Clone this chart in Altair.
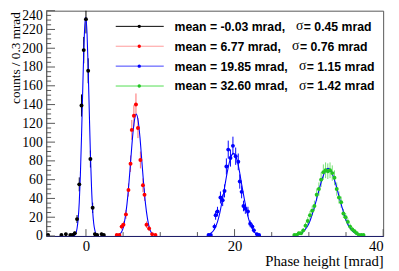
import altair as alt
import pandas as pd

# ---------------- histogram contents (bin width 0.3 mrad) ----------------
black_x = [-5.1, -3.3, -2.7, -2.1, -1.8, -1.5, -1.2, -0.9, -0.6, -0.3, 0.0, 0.3, 0.6, 0.9, 1.2, 1.5, 2.1, 2.4]
black_y = [1, 1, 2, 1, 1, 3, 18, 55, 139, 198, 231, 176, 82, 30, 2, 1, 2, 1]

red_x = [4.15, 4.5, 4.8, 5.05, 5.38, 5.72, 6.0, 6.17, 6.45, 6.73, 7.0, 7.33, 7.67, 7.88, 8.15, 8.5, 8.9, 9.35]
red_y = [1, 1, 10, 12, 23, 49, 77, 113, 128, 140, 115, 81, 54, 44, 12, 8, 2, 1]

blue_x = [16.5, 16.8, 17.3, 17.45, 17.7, 18.1, 18.4, 18.65, 18.9, 19.15, 19.45, 19.78, 20.15, 20.5, 20.7,
          20.95, 21.2, 21.45, 21.8, 22.1, 22.4, 22.6, 23.0, 23.3]
blue_y = [1, 1, 10, 22, 26, 41, 38, 48, 74, 92, 83, 96, 85, 79, 58, 47, 32, 29, 26, 13, 10, 6, 2, 1]

green_x = [28.05, 28.35, 28.65, 28.95, 29.25, 29.55, 29.85, 30.15, 30.45, 30.75, 31.05, 31.35, 31.65, 31.95,
           32.25, 32.55, 32.85, 33.15, 33.45, 33.75, 34.05, 34.35, 34.65, 34.95, 35.25, 35.55, 35.85, 36.15,
           36.45, 36.75, 37.05, 37.35]
green_y = [1, 1, 3, 3, 6, 11, 16, 22, 27, 32, 44, 50, 60, 68, 70, 69, 70, 67, 62, 50, 41, 36, 24, 20, 15, 10,
           7, 5, 3, 1, 1, 1]

# ---------------- fitted curves ----------------
fit_black_x = [-1.65, -1.5, -1.35, -1.2, -1.05, -0.9, -0.75, -0.6, -0.45, -0.3, -0.15, -0.03, 0.15, 0.3, 0.45,
               0.6, 0.75, 0.9, 1.05, 1.2, 1.35, 1.5, 1.65]
fit_black_y = [0, 1, 3, 8, 18, 36, 65, 105, 151, 195, 225, 233, 215, 178, 132, 87, 52, 27, 13, 6, 2, 1, 0]

fit_red_x = [4.27, 4.52, 4.77, 5.02, 5.27, 5.52, 5.77, 6.02, 6.27, 6.52, 6.77, 7.02, 7.27, 7.52, 7.77, 8.02,
             8.27, 8.52, 8.77, 9.02, 9.27]
fit_red_y = [1, 2, 4, 9, 19, 34, 55, 80, 105, 123, 130, 123, 105, 80, 55, 34, 19, 9, 4, 2, 1]

fit_blue_x = [16.5, 16.8, 17.1, 17.4, 17.7, 18.0, 18.3, 18.6, 18.9, 19.2, 19.5, 19.85, 20.1, 20.4, 20.7, 21.0,
              21.3, 21.6, 21.9, 22.2, 22.5, 22.8, 23.1, 23.4]
fit_blue_y = [1, 3, 5, 9, 15, 24, 36, 49, 63, 75, 84, 88, 86, 79, 67, 53, 40, 28, 18, 11, 6, 3, 2, 1]

fit_green_x = [28.2, 28.6, 29.0, 29.4, 29.8, 30.2, 30.6, 31.0, 31.4, 31.8, 32.2, 32.6, 33.0, 33.4, 33.8, 34.2,
               34.6, 35.0, 35.4, 35.8, 36.2, 36.6, 37.0]
fit_green_y = [0.6, 1.3, 3, 6, 10, 17, 27, 38, 50, 61, 69, 72, 69, 61, 50, 38, 27, 17, 10, 6, 3, 1.3, 0.6]

# ---------------- legend text ----------------
series = ["s0", "s1", "s2", "s3"]
mean_labels = ["mean = -0.03 mrad,", "mean = 6.77 mrad,", "mean = 19.85 mrad,", "mean = 32.60 mrad,"]
sigma_labels = ["= 0.45 mrad", "= 0.76 mrad", "= 1.15 mrad", "= 1.42 mrad"]

# ---------------- axis ticks ----------------
x_major = [0, 20, 40]
x_minor = [5, 10, 15, 25, 30, 35]
y_major = list(range(0, 241, 20))
y_minor = [v for v in range(5, 240, 5) if v % 20 != 0]

# ---------------- styles ----------------
marker_colors = ["#000000", "#ff0000", "#0000ff", "#22c422"]
bar_colors = ["#000000", "#ff6a6a", "#0000ff", "#74e074"]
legend_line_colors = ["#000000", "#ff9a9a", "#4040ff", "#50dd50"]
sigma_px = [255, 251, 258, 258]
W, H = 344, 230

hist = pd.DataFrame({
    "s": ["s0"] * len(black_x) + ["s1"] * len(red_x) + ["s2"] * len(blue_x) + ["s3"] * len(green_x),
    "x": black_x + red_x + blue_x + green_x,
    "y": black_y + red_y + blue_y + green_y,
})
fits = pd.DataFrame({
    "s": ["s0"] * len(fit_black_x) + ["s1"] * len(fit_red_x) + ["s2"] * len(fit_blue_x) + ["s3"] * len(fit_green_x),
    "x": fit_black_x + fit_red_x + fit_blue_x + fit_green_x,
    "y": fit_black_y + fit_red_y + fit_blue_y + fit_green_y,
})

xs = alt.Scale(domain=[-5.35, 40], nice=False, zero=False)
ys = alt.Scale(domain=[0, 240], nice=False)
serif = "Liberation Serif"

x_axis = alt.Axis(values=x_major, tickSize=0, labelFont=serif, labelFontSize=15, labelPadding=3,
                  labelColor="#000", domainColor="#1c1c6a", grid=False, title="Phase height [mrad]",
                  titleFont=serif, titleFontSize=15, titleFontWeight="normal", titleColor="#000",
                  titleX=W, titleY=30, titleAlign="right", titleBaseline="alphabetic", labelOverlap=False)
y_axis = alt.Axis(values=y_major, tickSize=0, labelFont=serif, labelFontSize=14, labelPadding=4,
                  labelColor="#000", domainColor="#606060", grid=False, title="counts / 0.3 mrad",
                  titleFont=serif, titleFontSize=13.5, titleFontWeight="normal", titleColor="#000",
                  titleX=-27.5, titleY=1, titleAngle=270, titleAlign="right", titleBaseline="alphabetic",
                  labelOverlap=False,
                  labelOffset={"condition": {"test": "datum.value == 240", "value": 4.5}, "value": 0})

errbars = alt.Chart(hist).transform_calculate(
    lo="datum.y - sqrt(datum.y)", hi="datum.y + sqrt(datum.y)"
).mark_rule(clip=True, strokeWidth=1).encode(
    x=alt.X("x:Q", scale=xs, axis=x_axis),
    y=alt.Y("lo:Q", scale=ys, axis=y_axis),
    y2="hi:Q",
    stroke=alt.Stroke("s:N", scale=alt.Scale(domain=series, range=bar_colors), legend=None),
)

curves = alt.Chart(fits).mark_line(clip=True, color="#0000ff", strokeWidth=1.1, interpolate="monotone").encode(
    x=alt.X("x:Q", scale=xs, axis=x_axis),
    y=alt.Y("y:Q", scale=ys, axis=y_axis),
    detail="s:N",
)

points = alt.Chart(hist).mark_point(filled=True, size=16, opacity=1, clip=True).encode(
    x=alt.X("x:Q", scale=xs, axis=x_axis),
    y=alt.Y("y:Q", scale=ys, axis=y_axis),
    fill=alt.Fill("s:N", scale=alt.Scale(domain=series, range=marker_colors), legend=None),
)

tick_color = "#555555"
xt_major = alt.Chart(pd.DataFrame({"v": x_major})).mark_rule(color=tick_color).encode(
    x=alt.X("v:Q", scale=xs, axis=x_axis), y=alt.value(H), y2=alt.value(H - 7))
xt_minor = alt.Chart(pd.DataFrame({"v": x_minor})).mark_rule(color=tick_color).encode(
    x=alt.X("v:Q", scale=xs, axis=x_axis), y=alt.value(H), y2=alt.value(H - 4))
yt_major = alt.Chart(pd.DataFrame({"v": y_major})).mark_rule(color=tick_color).encode(
    y=alt.Y("v:Q", scale=ys, axis=y_axis), x=alt.value(0), x2=alt.value(9))
yt_minor = alt.Chart(pd.DataFrame({"v": y_minor})).mark_rule(color=tick_color).encode(
    y=alt.Y("v:Q", scale=ys, axis=y_axis), x=alt.value(0), x2=alt.value(5))

layers = [errbars, curves, points, xt_major, xt_minor, yt_major, yt_minor]

one = pd.DataFrame({"a": [0]})
for i in range(4):
    ry = 16 + 20.3 * i
    layers.append(alt.Chart(one).mark_rule(color=legend_line_colors[i], strokeWidth=1).encode(
        x=alt.value(71), x2=alt.value(120), y=alt.value(ry)))
    layers.append(alt.Chart(one).mark_point(filled=True, size=12, opacity=1, color=marker_colors[i]).encode(
        x=alt.value(95), y=alt.value(ry)))
    layers.append(alt.Chart(one).mark_text(align="left", baseline="middle", font="Liberation Sans",
                                           fontSize=12.5, fontWeight="bold", color="#000").encode(
        x=alt.value(131), y=alt.value(ry + 0.5), text=alt.value(mean_labels[i])))
    layers.append(alt.Chart(one).mark_text(align="left", baseline="middle", font=serif,
                                           fontSize=14, color="#000").encode(
        x=alt.value(sigma_px[i]), y=alt.value(ry), text=alt.value("σ")))
    layers.append(alt.Chart(one).mark_text(align="left", baseline="middle", font="Liberation Sans",
                                           fontSize=12.5, fontWeight="bold", color="#000").encode(
        x=alt.value(sigma_px[i] + 8), y=alt.value(ry + 0.5), text=alt.value(sigma_labels[i])))

chart = alt.layer(*layers).properties(
    width=W, height=H,
    autosize=alt.AutoSizeParams(type="none"),
    padding={"left": 39, "top": 0, "right": 8, "bottom": 33},
    background="white",
).configure_view(stroke="#555555", strokeWidth=1)

chart.save("out.html", embed_options={"renderer": "svg", "actions": False})
